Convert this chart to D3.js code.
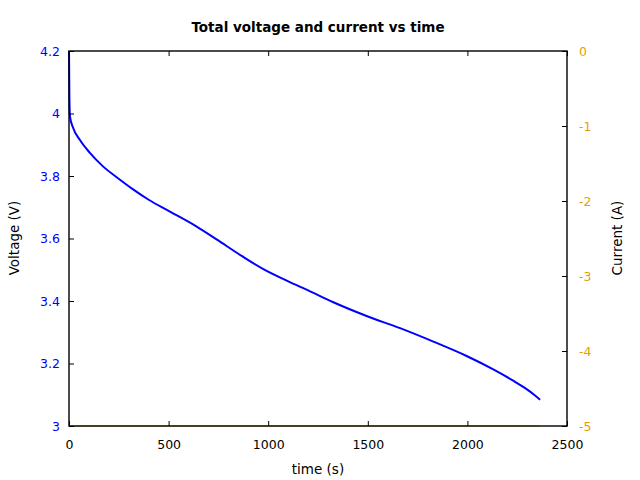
<!DOCTYPE html>
<html><head><meta charset="utf-8">
<script src="https://cdn.jsdelivr.net/npm/d3@7"></script>
<style>body{margin:0;background:#fff}svg{display:block}text{font-family:"DejaVu Sans",sans-serif}</style>
</head><body><svg id="c" width="640" height="480"></svg>
<script>
const timeS = [0, 2, 5, 20, 55, 105, 172, 246, 320, 400, 507, 641, 741, 875, 976, 1093, 1210, 1327, 1494, 1662, 1829, 1996, 2130, 2230, 2290, 2335, 2365];
const voltage = [4.2, 4.05, 3.99, 3.955, 3.915, 3.874, 3.830, 3.793, 3.758, 3.724, 3.686, 3.638, 3.597, 3.541, 3.502, 3.465, 3.431, 3.396, 3.352, 3.313, 3.270, 3.224, 3.181, 3.145, 3.121, 3.100, 3.084];
const currentT = [0, 2365];
const currentA = [-5, -5];
const xTicks = [0, 500, 1000, 1500, 2000, 2500];
const yTicks = [3, 3.2, 3.4, 3.6, 3.8, 4, 4.2];
const y2Ticks = [0, -1, -2, -3, -4, -5];

const svg = d3.select("#c");
const L = 69, R = 567, T = 51, B = 426;
const x = d3.scaleLinear().domain([0, 2500]).range([L, R]);
const y = d3.scaleLinear().domain([3, 4.2]).range([B, T]);
const y2 = d3.scaleLinear().domain([-5, 0]).range([B, T]);
const blue = "#0000ff", orange = "#e69f00";

svg.append("path").datum(d3.zip(currentT, currentA))
  .attr("fill", "none").attr("stroke", orange).attr("stroke-width", 1)
  .attr("d", d3.line().x(d => x(d[0])).y(d => y2(d[1])));

svg.append("path").datum(d3.zip(timeS, voltage))
  .attr("fill", "none").attr("stroke", blue).attr("stroke-width", 2)
  .attr("d", d3.line().x(d => x(d[0])).y(d => y(d[1])).curve(d3.curveMonotoneX));

const fmt = d3.format("");
const gB = svg.append("g").attr("transform", `translate(0,${B})`)
  .call(d3.axisBottom(x).tickValues(xTicks).tickSize(-5).tickPadding(14).tickFormat(fmt));
const gT = svg.append("g").attr("transform", `translate(0,${T})`)
  .call(d3.axisTop(x).tickValues(xTicks).tickSize(-5).tickFormat(""));
const gL = svg.append("g").attr("transform", `translate(${L},0)`)
  .call(d3.axisLeft(y).tickValues(yTicks).tickSize(-5).tickPadding(9).tickFormat(fmt));
const gR = svg.append("g").attr("transform", `translate(${R},0)`)
  .call(d3.axisRight(y2).tickValues(y2Ticks).tickSize(-5).tickPadding(12).tickFormat(d => d === 0 ? "0" : "-" + Math.abs(d)));
[gB, gT, gL, gR].forEach(g => {
  g.select(".domain").remove();
  g.selectAll(".tick line").attr("stroke", "#000");
  g.selectAll("text").style("font-size", "12.5px").style("font-family", "DejaVu Sans, sans-serif");
});
gB.selectAll("text").attr("fill", "#000");
gL.selectAll("text").attr("fill", blue);
gR.selectAll("text").attr("fill", orange);

svg.append("rect").attr("x", L).attr("y", T).attr("width", R - L).attr("height", B - T)
  .attr("fill", "none").attr("stroke", "#000").attr("stroke-width", 1.4);

svg.append("text").attr("x", 318).attr("y", 32).attr("text-anchor", "middle")
  .style("font-size", "13.5px").style("font-weight", "bold").text("Total voltage and current vs time");
svg.append("text").attr("x", 318).attr("y", 474).attr("text-anchor", "middle")
  .style("font-size", "13.5px").text("time (s)");
svg.append("text").attr("transform", `translate(19,238) rotate(-90)`).attr("text-anchor", "middle")
  .style("font-size", "13.5px").text("Voltage (V)");
svg.append("text").attr("transform", `translate(622,238) rotate(-90)`).attr("text-anchor", "middle")
  .style("font-size", "13.5px").text("Current (A)");
</script></body></html>
